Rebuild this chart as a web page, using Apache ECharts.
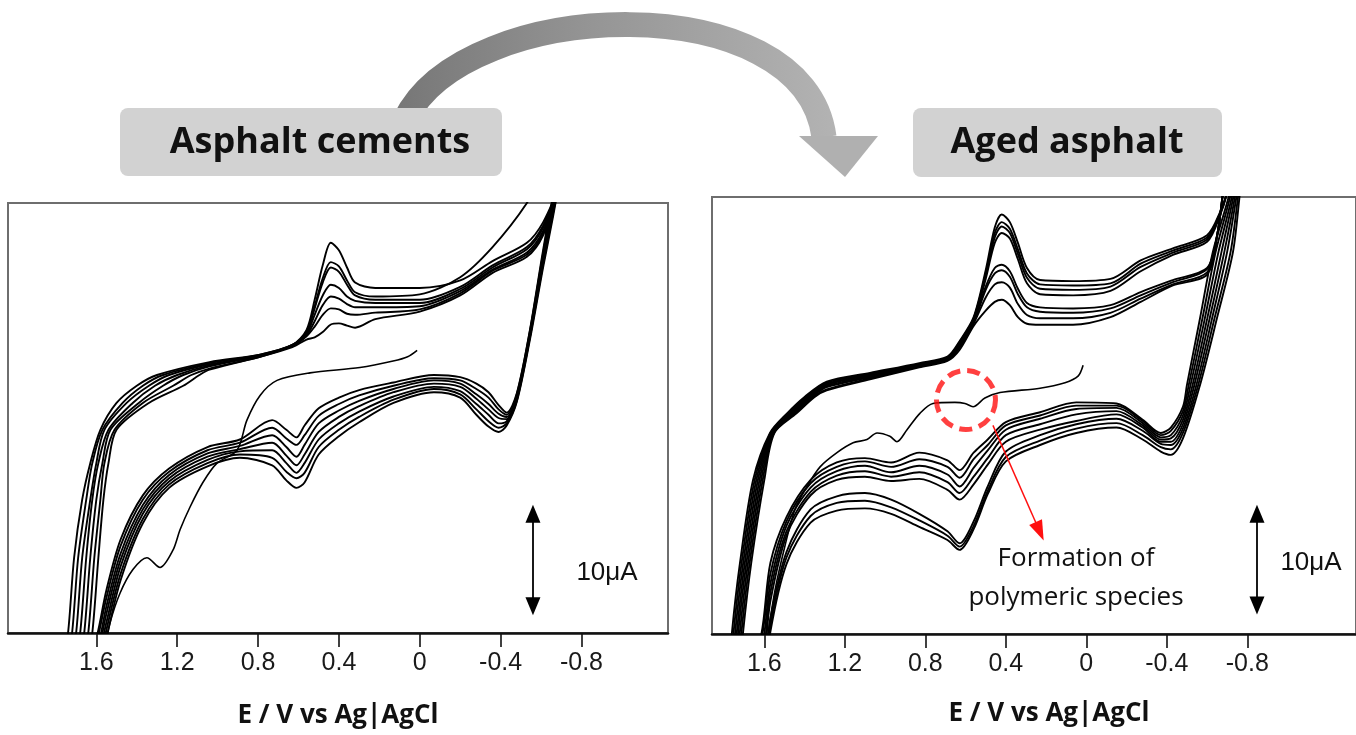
<!DOCTYPE html>
<html>
<head>
<meta charset="utf-8">
<script src="https://cdn.jsdelivr.net/npm/echarts@6/dist/echarts.min.js"></script>
<style>
html,body{margin:0;padding:0;background:#ffffff;}
#c{width:1356px;height:735px;}
</style>
</head>
<body>
<div id="c"></div>
<script>
// ---------- shared axis data ----------
const tickValues = [1.6, 1.2, 0.8, 0.4, 0, -0.4, -0.8];
const panelTitles = ['Asphalt cements', 'Aged asphalt'];
const axisTitle = 'E / V vs Ag|AgCl';

// ---------- LEFT panel: Asphalt cements (E in V, I in uA) ----------
const leftLowerE = [-0.70,-0.66,-0.61,-0.545,-0.48,-0.43,-0.39,-0.34,-0.28,-0.20,-0.07,0.13,0.30,0.40,0.50,0.57,0.61,0.66,0.73,0.89,1.05,1.24,1.37,1.48,1.55,1.60];
const leftLowerI = [
  [23,18.8,14.0,7.3,1.5,-0.7,-1.3,-0.8,0.3,1.9,2.4,1.4,-0.4,-1.7,-3.4,-6.0,-6.5,-5.8,-4.4,-3.7,-4.5,-6.5,-9.8,-15.1,-20.5,-25],
  [23,19.1,14.3,7.5,1.6,-0.5,-0.9,-0.3,0.8,2.2,2.7,1.7,0.1,-1.1,-2.7,-5.1,-5.6,-5.0,-3.7,-3.4,-4.2,-6.2,-9.4,-14.5,-19.7,-24],
  [23,19.4,14.5,7.6,1.8,-0.3,-0.5,0.3,1.3,2.5,2.9,2.0,0.6,-0.5,-2.0,-4.2,-5.1,-4.2,-3.0,-3.1,-3.9,-5.9,-8.9,-13.8,-19.0,-23],
  [23,19.8,14.8,7.8,1.9,-0.1,0.0,0.8,1.8,2.9,3.2,2.4,1.1,0.1,-1.3,-3.4,-4.4,-3.5,-2.3,-2.9,-3.6,-5.6,-8.5,-13.2,-18.2,-22.5],
  [23,20.1,15.1,7.9,2.0,0.1,0.4,1.3,2.2,3.2,3.5,2.7,1.6,0.7,-0.5,-2.5,-3.6,-2.7,-1.6,-2.6,-3.3,-5.3,-8.1,-12.6,-17.5,-22],
  [23,20.4,15.3,8.1,2.2,0.3,0.8,1.9,2.7,3.5,3.7,3.0,2.1,1.3,0.2,-1.6,-2.5,-1.9,-0.9,-2.3,-3.0,-5.0,-7.6,-11.9,-16.7,-21],
  [23,20.7,15.6,8.2,2.3,0.5,1.2,2.4,3.2,3.8,4.0,3.3,2.6,1.9,0.9,-0.7,-1.8,-1.1,-0.2,-2.0,-2.7,-4.7,-7.2,-11.3,-16.0,-20.5]
];
const leftVertex = [1.82, -35];
// reverse sweep near the anodic limit: potential reached at each current level
const leftRiseI = [-25,-20,-13,-7.6,-4.2,-1.1,1.4,3.0,4.0];
const leftRiseE = [
  [1.78,1.74,1.71,1.67,1.63,1.58,1.50,1.40,1.30],
  [1.76,1.72,1.69,1.65,1.62,1.57,1.47,1.37,1.27],
  [1.74,1.70,1.67,1.63,1.60,1.56,1.45,1.34,1.24],
  [1.72,1.68,1.65,1.62,1.59,1.54,1.42,1.31,1.20],
  [1.70,1.66,1.63,1.60,1.57,1.53,1.39,1.27,1.17],
  [1.68,1.64,1.61,1.58,1.56,1.51,1.37,1.22,1.13],
  [1.66,1.62,1.59,1.565,1.54,1.50,1.34,1.17,1.09]
];
const leftUpperE = [1.04,0.79,0.63,0.56,0.52,0.48,0.44,0.40,0.36,0.32,0.22,0.00,-0.20,-0.36,-0.53,-0.61,-0.70];
const leftUpperI = [
  [5.2,5.9,6.8,8.2,11.0,14.2,16.3,15.6,14.0,12.6,12.1,12.1,12.8,14.6,16.3,18.2,22],
  [5.1,5.9,6.8,8.0,10.4,13.0,14.5,14.1,12.8,11.7,11.3,11.5,13.1,15.9,20.0,23,25],
  [5.0,5.8,6.8,8.0,10.2,12.6,14.0,13.6,12.4,11.4,11.0,11.0,12.2,14.2,15.9,17.9,22],
  [4.9,5.8,6.7,7.8,9.6,11.4,12.4,12.1,11.3,10.9,10.7,10.7,12.0,14.0,15.7,17.7,22],
  [4.8,5.8,6.7,7.7,9.0,10.5,11.3,11.1,10.6,10.3,10.3,10.4,11.8,13.8,15.4,17.4,22],
  [4.6,5.7,6.7,7.6,8.5,9.6,10.2,10.1,9.7,9.6,9.8,10.1,11.6,13.7,15.2,17.2,22],
  [4.5,5.7,6.6,7.3,7.5,8.0,8.7,8.8,8.6,8.4,9.2,9.9,11.4,13.5,15.0,17.0,22]
];
const leftFirstScan = [[0.013,6.3],[0.06,5.7],[0.132,5.3],[0.296,4.7],[0.543,4.2],[0.706,3.5],[0.79,2.1],[0.855,-0.2],[0.904,-3.0],[1.003,-4.2],[1.073,-6.0],[1.137,-8.3],[1.186,-10.4],[1.221,-12.3],[1.285,-13.9],[1.35,-13.0],[1.419,-14.1],[1.483,-16.3],[1.533,-19.1],[1.56,-21.6]];

// ---------- RIGHT panel: Aged asphalt ----------
const rightStartI = [23,20.5,15.0,8.9,2.8];
const rightStartE = [
  [-0.78,-0.764,-0.729,-0.649,-0.565],
  [-0.775,-0.757,-0.717,-0.637,-0.556],
  [-0.77,-0.75,-0.70,-0.625,-0.547],
  [-0.76,-0.743,-0.686,-0.613,-0.537],
  [-0.755,-0.736,-0.672,-0.601,-0.528],
  [-0.745,-0.729,-0.657,-0.589,-0.518],
  [-0.74,-0.721,-0.643,-0.577,-0.509],
  [-0.73,-0.714,-0.629,-0.565,-0.500]
];
const rightLowerE = [-0.48,-0.42,-0.37,-0.28,-0.15,0.05,0.23,0.40,0.49,0.56,0.63,0.69,0.83,0.97,1.10,1.24,1.37,1.49,1.57];
const rightLowerI = [
  [-2.1,-3.6,-3.3,-2.2,-1.1,-1.6,-2.7,-4.2,-7.2,-10.4,-12.3,-11.4,-10.2,-9.0,-8.5,-8.7,-9.8,-13.6,-19.8],
  [-1.6,-3.1,-2.9,-1.8,-0.7,-1.2,-2.3,-3.8,-6.9,-10.1,-12.0,-11.0,-9.6,-8.4,-7.8,-8.0,-9.2,-13.0,-19.2],
  [-1.2,-2.7,-2.6,-1.4,-0.3,-0.8,-1.8,-3.3,-6.5,-9.7,-11.7,-10.6,-9.0,-7.7,-7.1,-7.4,-8.6,-12.5,-18.6],
  [-0.8,-2.4,-2.4,-1.1,0.1,-0.5,-1.3,-2.4,-4.5,-6.3,-7.7,-6.8,-5.8,-6.0,-5.6,-5.9,-7.3,-11.0,-17.0],
  [-0.4,-2.1,-2.2,-0.9,0.4,0.1,-0.8,-1.8,-3.9,-5.6,-7.1,-6.1,-5.2,-5.6,-5.1,-5.5,-7.0,-10.6,-16.2],
  [0.0,-1.8,-2.0,-0.7,0.7,0.6,-0.3,-1.3,-3.2,-4.8,-6.5,-5.4,-4.6,-5.2,-4.6,-5.1,-6.6,-10.1,-15.4],
  [0.4,-1.4,-1.8,-0.5,0.9,0.9,0.0,-0.9,-2.7,-4.0,-5.7,-4.7,-4.0,-4.7,-4.2,-4.7,-6.2,-9.7,-14.5],
  [0.8,-1.1,-1.6,-0.4,1.1,1.2,0.3,-0.6,-2.2,-3.4,-5.0,-4.1,-3.4,-4.3,-3.9,-4.3,-5.9,-9.3,-13.5]
];
const rightTailE = [1.60,1.60,1.605,1.61,1.61,1.615,1.62,1.62];
const rightTailI = [-25,-24,-23.5,-22.5,-22,-21.5,-21,-20.5];
const rightVertex = [1.85, -35];
const rightRiseI = [-25,-19.9,-13.5,-5.9,-1.6,0.2,1.7];
const rightRiseE = [
  [1.78,1.761,1.721,1.656,1.572,1.487,1.400],
  [1.773,1.753,1.713,1.648,1.569,1.480,1.393],
  [1.766,1.745,1.705,1.640,1.566,1.474,1.386],
  [1.759,1.737,1.697,1.632,1.563,1.467,1.379],
  [1.751,1.730,1.689,1.624,1.560,1.460,1.371],
  [1.744,1.722,1.681,1.616,1.556,1.454,1.364],
  [1.737,1.714,1.673,1.608,1.553,1.447,1.357],
  [1.73,1.706,1.665,1.60,1.55,1.44,1.350]
];
const rightUpperE = [1.29,1.075,0.83,0.69,0.63,0.56,0.50,0.455,0.42,0.38,0.34,0.295,0.23,0.066,-0.12,-0.27,-0.43,-0.60];
const rightUpperI = [
  [3.1,3.9,4.8,5.4,6.8,9.0,13.3,17.2,18.4,17.7,15.8,13.5,12.4,12.3,12.5,14.2,15.3,16.5],
  [3.0,3.8,4.7,5.3,6.7,8.9,13.0,16.7,17.7,17.1,15.2,13.0,12.0,11.9,12.1,13.9,15.1,16.3],
  [2.9,3.7,4.7,5.3,6.6,8.8,12.8,16.3,17.3,16.7,14.8,12.6,11.6,11.5,11.8,13.6,14.9,16.1],
  [2.8,3.7,4.6,5.2,6.5,8.7,12.5,15.8,16.7,16.2,14.3,12.1,11.1,11.0,11.4,13.2,14.7,15.9],
  [2.7,3.6,4.6,5.2,6.4,8.6,11.8,13.5,13.8,13.2,11.6,10.3,9.9,9.8,10.1,11.3,12.4,13.5],
  [2.6,3.5,4.5,5.1,6.3,8.5,11.5,13.0,13.3,12.7,11.1,9.9,9.5,9.4,9.8,11.0,12.2,13.4],
  [2.4,3.4,4.5,5.1,6.2,8.4,10.8,12.0,12.2,11.7,10.2,9.2,8.9,8.9,9.4,10.7,12.0,13.1],
  [2.3,3.3,4.4,5.0,6.0,8.2,9.6,10.4,10.6,10.1,9.0,8.4,8.3,8.3,9.0,10.4,11.9,12.9]
];
const rightEndE = [
  [-0.664,-0.70,-0.72],[-0.664,-0.70,-0.72],[-0.664,-0.70,-0.72],[-0.664,-0.70,-0.72],
  [-0.65,-0.68,-0.70],[-0.65,-0.68,-0.70],[-0.65,-0.68,-0.70],[-0.65,-0.68,-0.70]
];
const rightEndI = [
  [18.6,20.5,23],[18.5,20.5,23],[18.4,20.5,23],[18.3,20.5,23],
  [16.5,20.5,23],[16.5,20.5,23],[16.5,20.5,23],[16.5,20.5,23]
];
const rightFirstScan = [[0.016,4.6],[0.041,3.6],[0.106,3.0],[0.23,2.5],[0.429,2.1],[0.504,1.6],[0.563,0.8],[0.603,1.1],[0.653,1.2],[0.762,1.1],[0.827,0.2],[0.891,-1.3],[0.941,-2.4],[0.976,-1.9],[1.04,-1.6],[1.09,-2.2],[1.159,-2.5],[1.239,-3.4],[1.323,-4.7],[1.388,-6.5],[1.448,-8.6],[1.497,-11.9],[1.547,-16.0],[1.582,-20.0],[1.60,-22.4]];

// annotations (data coordinates)
const scaleBarCurrent = 10; // uA
const leftScaleBar = {E: -0.56, top: -8.9, bottom: -17.5};
const rightScaleBar = {E: -0.848, top: -9.0, bottom: -17.4};
const polymerCircle = [0.598, 1.42];
const polymerArrow = [[0.464, -0.9], [0.232, -10.6]];

// ---------- build loops ----------
function buildLeft(k){
  const pts = [];
  leftLowerE.forEach((e,i)=>pts.push([e, leftLowerI[k][i]]));
  pts.push(leftVertex);
  leftRiseI.forEach((v,i)=>pts.push([leftRiseE[k][i], v]));
  leftUpperE.forEach((e,i)=>pts.push([e, leftUpperI[k][i]]));
  return pts;
}
function buildRight(k){
  const pts = [];
  rightStartI.forEach((v,i)=>pts.push([rightStartE[k][i], v]));
  rightLowerE.forEach((e,i)=>pts.push([e, rightLowerI[k][i]]));
  pts.push([rightTailE[k], rightTailI[k]]);
  pts.push(rightVertex);
  rightRiseI.forEach((v,i)=>pts.push([rightRiseE[k][i], v]));
  rightUpperE.forEach((e,i)=>pts.push([e, rightUpperI[k][i]]));
  rightEndE[k].forEach((e,i)=>pts.push([e, rightEndI[k][i]]));
  return pts;
}

const lineBase = {type:'line', showSymbol:false, symbol:'none', smooth:0.3, silent:true, animation:false, clip:true,
  lineStyle:{color:'#000', width:1.9}};

const series = [];
for (let k=0;k<leftLowerI.length;k++){
  series.push(Object.assign({}, lineBase, {xAxisIndex:0, yAxisIndex:0, data: buildLeft(k)}));
}
for (let k=0;k<rightLowerI.length;k++){
  series.push(Object.assign({}, lineBase, {xAxisIndex:1, yAxisIndex:1, data: buildRight(k)}));
}
const arrowMarkLine = (bar)=>({
  silent:true, animation:false, symbol:['triangle','triangle'], symbolSize:[15,18],
  lineStyle:{color:'#000', width:1.8, type:'solid'}, label:{show:false},
  data:[[{coord:[bar.E, bar.top]},{coord:[bar.E, bar.bottom]}]]
});
series.push(Object.assign({}, lineBase, {xAxisIndex:0, yAxisIndex:0, data:leftFirstScan, lineStyle:{color:'#000', width:1.6},
  markLine: arrowMarkLine(leftScaleBar)}));
series.push(Object.assign({}, lineBase, {xAxisIndex:1, yAxisIndex:1, data:rightFirstScan, lineStyle:{color:'#000', width:1.6},
  markLine: arrowMarkLine(rightScaleBar)}));
series.push({type:'scatter', xAxisIndex:1, yAxisIndex:1, silent:true, animation:false, z:5,
  data:[polymerCircle], symbol:'circle', symbolSize:59,
  itemStyle:{color:'rgba(0,0,0,0)', borderColor:'#ff1010', borderWidth:5, borderType:[13,7]},
  markLine:{silent:true, animation:false, symbol:['none','triangle'], symbolSize:[14,20],
    lineStyle:{color:'#ff1010', width:1.5, type:'solid'}, label:{show:false},
    data:[[{coord:polymerArrow[0]},{coord:polymerArrow[1]}]]}
});

function xAxisFor(grid, min, max, nameGap, namePad){
  return {
    gridIndex:grid, type:'value', min:min, max:max, inverse:true,
    axisLine:{show:true, onZero:false, lineStyle:{color:'#111', width:2.5}},
    axisTick:{show:true, inside:false, length:14, customValues:tickValues, lineStyle:{color:'#111', width:1.6}},
    axisLabel:{show:true, customValues:tickValues, margin:18, fontFamily:'Liberation Sans, Arial, sans-serif', fontSize:25, color:'#1a1a1a',
      formatter:(v)=>String(v)},
    splitLine:{show:false},
    name:axisTitle, nameLocation:'middle', nameGap:nameGap,
    nameTextStyle:{fontFamily:'Open Sans', fontWeight:'bold', fontSize:26, color:'#111', padding:namePad}
  };
}

const arrowGradient = {type:'linear', x:0, y:0, x2:1, y2:0, colorStops:[
  {offset:0, color:'#767676'}, {offset:0.45, color:'#959595'}, {offset:1, color:'#b3b3b3'}]};

const option = {
  backgroundColor:'#ffffff',
  animation:false,
  grid:[
    {left:8, top:203, width:660, height:430, show:true, borderColor:'#6e6e6e', borderWidth:2, backgroundColor:'rgba(0,0,0,0)'},
    {left:712, top:197, right:-4, bottom:101, show:true, borderColor:'#6e6e6e', borderWidth:2, backgroundColor:'rgba(0,0,0,0)'}
  ],
  xAxis:[ xAxisFor(0, -1.228, 2.037, 70, [0,0,0,0]), xAxisFor(1, -1.340, 1.860, 67, [0,0,0,30]) ],
  yAxis:[
    {gridIndex:0, type:'value', min:-20, max:20, show:false},
    {gridIndex:1, type:'value', min:-20, max:20, show:false}
  ],
  series: series,
  graphic:[
    {type:'bezierCurve', z:1, shape:{x1:405, y1:120, cpx1:465, cpy1:-5, cpx2:805, cpy2:-15, x2:824, y2:137},
      style:{stroke:arrowGradient, lineWidth:25, fill:null, lineCap:'butt'}},
    {type:'polygon', z:1, shape:{points:[[799,136],[878,136],[845,177]]}, style:{fill:'#b0b0b0'}},
    {type:'rect', z:2, shape:{x:120, y:108, width:382, height:68, r:8}, style:{fill:'#d2d2d2'}},
    {type:'text', z:3, x:320, y:143, style:{text:panelTitles[0], font:'bold 36px "Open Sans"', fill:'#111', align:'center', verticalAlign:'middle'}},
    {type:'rect', z:2, shape:{x:913, y:108, width:309, height:69, r:8}, style:{fill:'#d2d2d2'}},
    {type:'text', z:3, x:1067, y:143, style:{text:panelTitles[1], font:'bold 36px "Open Sans"', fill:'#111', align:'center', verticalAlign:'middle'}},
    {type:'text', z:3, x:607, y:573, style:{text:scaleBarCurrent + 'μA', font:'26px "Liberation Sans"', fill:'#111', align:'center', verticalAlign:'middle'}},
    {type:'text', z:3, x:1311, y:563, style:{text:scaleBarCurrent + 'μA', font:'26px "Liberation Sans"', fill:'#111', align:'center', verticalAlign:'middle'}},
    {type:'text', z:3, x:1076, y:559, style:{text:'Formation of', font:'26px "Open Sans"', fill:'#111', align:'center', verticalAlign:'middle'}},
    {type:'text', z:3, x:1076, y:598, style:{text:'polymeric species', font:'26px "Open Sans"', fill:'#111', align:'center', verticalAlign:'middle'}}
  ]
};

const chart = echarts.init(document.getElementById('c'), null, {renderer:'canvas'});
chart.setOption(option);
</script>
</body>
</html>
